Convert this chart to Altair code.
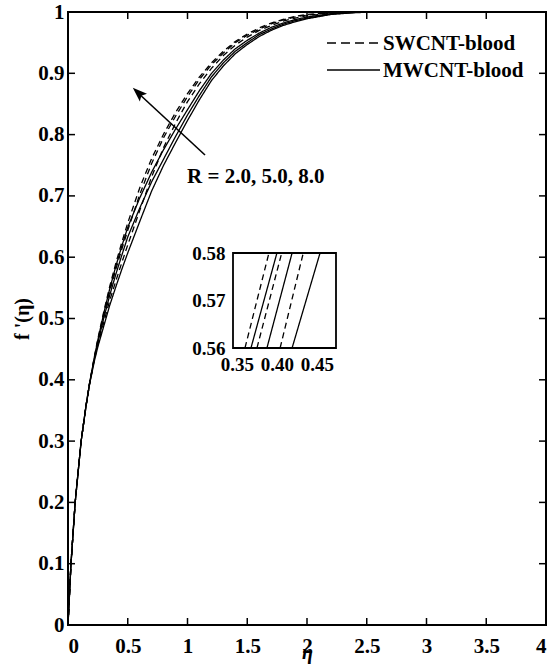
import altair as alt
import pandas as pd

# ---------------- data ----------------
eta = [0, 0.025, 0.06, 0.11, 0.15, 0.18, 0.22, 0.25, 0.3, 0.35, 0.4, 0.45, 0.5, 0.6, 0.7, 0.8,
       0.9, 1.0, 1.1, 1.2, 1.3, 1.4, 1.5, 1.6, 1.7, 1.8, 1.9, 2.0, 2.2, 2.4, 2.6, 3.0]

sw_R8 = [0, 0.1, 0.2, 0.3, 0.357, 0.394, 0.437, 0.467, 0.512, 0.553, 0.590, 0.624, 0.656, 0.713,
         0.761, 0.801, 0.836, 0.867, 0.894, 0.917, 0.936, 0.952, 0.964, 0.974, 0.982, 0.988, 0.993,
         0.996, 0.999, 1.0, 1.0, 1.0]
sw_R5 = [0, 0.1, 0.2, 0.3, 0.357, 0.3935, 0.435, 0.464, 0.506, 0.545, 0.580, 0.613, 0.644, 0.702,
         0.753, 0.795, 0.830, 0.862, 0.890, 0.914, 0.933, 0.950, 0.962, 0.972, 0.9806, 0.987, 0.992,
         0.995, 0.9986, 1.0, 1.0, 1.0]
sw_R2 = [0, 0.1, 0.2, 0.3, 0.356, 0.3925, 0.432, 0.457, 0.494, 0.530, 0.561, 0.591, 0.620, 0.676,
         0.731, 0.779, 0.8185, 0.8538, 0.883, 0.908, 0.929, 0.946, 0.959, 0.970, 0.978, 0.985, 0.990,
         0.994, 0.998, 0.9997, 1.0, 1.0]
mw_R8 = [0, 0.1, 0.2, 0.3, 0.357, 0.394, 0.436, 0.465, 0.509, 0.549, 0.585, 0.618, 0.6487, 0.6965,
         0.7387, 0.7755, 0.809, 0.8406, 0.8718, 0.8996, 0.9216, 0.940, 0.9538, 0.9656, 0.9748, 0.982,
         0.9876, 0.9918, 0.9972, 0.9994, 1.0, 1.0]
mw_R5 = [0, 0.1, 0.2, 0.3, 0.356, 0.393, 0.434, 0.461, 0.501, 0.5385, 0.572, 0.603, 0.633, 0.680,
         0.723, 0.760, 0.797, 0.832, 0.864, 0.894, 0.917, 0.936, 0.950, 0.963, 0.972, 0.980, 0.9858,
         0.990, 0.9966, 0.9992, 1.0, 1.0]
mw_R2 = [0, 0.1, 0.2, 0.3, 0.356, 0.392, 0.43, 0.454, 0.488, 0.522, 0.5515, 0.580, 0.607, 0.658,
         0.708, 0.75, 0.787, 0.823, 0.857, 0.888, 0.912, 0.932, 0.947, 0.96, 0.97, 0.978, 0.984,
         0.989, 0.996, 0.999, 1.0, 1.0]

fluids = ["SWCNT-blood", "MWCNT-blood"]

# inset: eta where each curve crosses f' = 0.56 and f' = 0.58
inset_f = [0.56, 0.58]
inset_sw_R2 = [0.404, 0.433]
inset_sw_R5 = [0.375, 0.406]
inset_sw_R8 = [0.360, 0.390]
inset_mw_R2 = [0.419, 0.454]
inset_mw_R5 = [0.3875, 0.419]
inset_mw_R8 = [0.3675, 0.400]

x_ticks = [0, 0.5, 1, 1.5, 2, 2.5, 3, 3.5, 4]
y_ticks = [0, 0.1, 0.2, 0.3, 0.4, 0.5, 0.6, 0.7, 0.8, 0.9, 1]
inset_x_ticks = [0.35, 0.40, 0.45]
inset_y_ticks = [0.56, 0.57, 0.58]
legend_labels = ["SWCNT-blood", "MWCNT-blood"]
annotation = ["R = 2.0, 5.0, 8.0"]

# ---------------- tables ----------------
series = [("SWCNT-blood", "2.0", sw_R2), ("SWCNT-blood", "5.0", sw_R5), ("SWCNT-blood", "8.0", sw_R8),
          ("MWCNT-blood", "2.0", mw_R2), ("MWCNT-blood", "5.0", mw_R5), ("MWCNT-blood", "8.0", mw_R8)]
rows = []
for fl, r, vals in series:
    for e, v in zip(eta, vals):
        rows.append({"eta": e, "fp": v, "fluid": fl, "curve": fl + r})
df = pd.DataFrame(rows)

inset_series = [("SWCNT-blood", "2.0", inset_sw_R2), ("SWCNT-blood", "5.0", inset_sw_R5),
                ("SWCNT-blood", "8.0", inset_sw_R8), ("MWCNT-blood", "2.0", inset_mw_R2),
                ("MWCNT-blood", "5.0", inset_mw_R5), ("MWCNT-blood", "8.0", inset_mw_R8)]
irows = []
for fl, r, vals in inset_series:
    for e, v in zip(vals, inset_f):
        irows.append({"ieta": e, "ifp": v, "fluid": fl, "curve": fl + r})
idf = pd.DataFrame(irows)

# ---------------- layout ----------------
W, H = 478, 613
FONT = "Liberation Serif"
FS = 21
TICK = 7
IX0, IX1, IY0, IY1 = 165, 268, 241, 336

xs = alt.Scale(domain=[0, 4], nice=False, zero=False)
ys = alt.Scale(domain=[0, 1], nice=False, zero=False)
xax = alt.Axis(values=x_ticks, format="~g", labelPadding=10, titlePadding=-14,
               titleFontStyle="italic", titleFontSize=20)
yax = alt.Axis(values=y_ticks, format="~g", labelPadding=4, titlePadding=5)
dash = alt.Scale(domain=fluids, range=[[6, 4], [1, 0]])

lines = alt.Chart(df).mark_line(color="black", strokeWidth=1.3).encode(
    x=alt.X("eta:Q", scale=xs, axis=xax, title="η"),
    y=alt.Y("fp:Q", scale=ys, axis=yax, title="f '(η)"),
    strokeDash=alt.StrokeDash("fluid:N", scale=dash, legend=None),
    detail="curve:N",
)

xt = pd.DataFrame({"eta": x_ticks})
yt = pd.DataFrame({"fp": y_ticks})
tick_style = dict(color="black", strokeWidth=1.5)
tb = alt.Chart(xt).mark_rule(**tick_style).encode(
    x=alt.X("eta:Q", scale=xs, axis=xax, title="η"), y=alt.value(H), y2=alt.value(H - TICK))
tt = alt.Chart(xt).mark_rule(**tick_style).encode(
    x=alt.X("eta:Q", scale=xs, axis=xax, title="η"), y=alt.value(0), y2=alt.value(TICK))
tl = alt.Chart(yt).mark_rule(**tick_style).encode(
    y=alt.Y("fp:Q", scale=ys, axis=yax, title="f '(η)"), x=alt.value(0), x2=alt.value(TICK))
tr = alt.Chart(yt).mark_rule(**tick_style).encode(
    y=alt.Y("fp:Q", scale=ys, axis=yax, title="f '(η)"), x=alt.value(W), x2=alt.value(W - TICK))

main = alt.layer(lines, tb, tt, tl, tr)

# inset
one = pd.DataFrame({"k": [0]})
box = alt.Chart(one).mark_rect(fill="white", stroke="black", strokeWidth=1.8).encode(
    x=alt.value(IX0), x2=alt.value(IX1), y=alt.value(IY0), y2=alt.value(IY1))

ixs = alt.Scale(domain=[0.345, 0.474], range=[IX0, IX1], nice=False, zero=False)
iys = alt.Scale(domain=[0.56, 0.58], range=[IY1, IY0], nice=False, zero=False)
inset_lines = alt.Chart(idf).mark_line(color="black", strokeWidth=1.3).encode(
    x=alt.X("ieta:Q", scale=ixs, title=None,
            axis=alt.Axis(values=inset_x_ticks, format=".2f", orient="bottom",
                          offset=-(H - IY1), labelPadding=7, labelFontSize=19)),
    y=alt.Y("ifp:Q", scale=iys, title=None,
            axis=alt.Axis(values=inset_y_ticks, format=".2f", orient="left",
                          offset=-IX0, labelPadding=8, labelFontSize=19)),
    strokeDash=alt.StrokeDash("fluid:N", scale=alt.Scale(domain=fluids, range=[[3, 4], [1, 0]]),
                              legend=None),
    detail="curve:N",
)

# arrow + annotation
arrow_line = alt.Chart(one).mark_rule(color="black", strokeWidth=1.6).encode(
    x=alt.value(137), y=alt.value(143), x2=alt.value(69), y2=alt.value(80))
arrow_head = alt.Chart(one).mark_point(
    shape="M0,-1 L0.65,0.8 L0,0.45 L-0.65,0.8 Z", filled=True, color="black",
    size=260, angle=313, opacity=1).encode(x=alt.value(70.7), y=alt.value(81.3))
annot = alt.Chart(pd.DataFrame({"t": annotation})).mark_text(
    align="left", baseline="middle", font=FONT, fontSize=FS, fontWeight="bold", color="black"
).encode(text="t:N", x=alt.value(119), y=alt.value(165))

# legend (manual)
leg1_line = alt.Chart(one).mark_rule(color="black", strokeWidth=1.6, strokeDash=[9, 5]).encode(
    x=alt.value(259), x2=alt.value(312), y=alt.value(31))
leg2_line = alt.Chart(one).mark_rule(color="black", strokeWidth=1.3).encode(
    x=alt.value(259), x2=alt.value(312), y=alt.value(58))
leg1_text = alt.Chart(pd.DataFrame({"t": legend_labels[:1]})).mark_text(
    align="left", baseline="middle", font=FONT, fontSize=FS, fontWeight="bold", color="black"
).encode(text="t:N", x=alt.value(315), y=alt.value(32))
leg2_text = alt.Chart(pd.DataFrame({"t": legend_labels[1:]})).mark_text(
    align="left", baseline="middle", font=FONT, fontSize=FS, fontWeight="bold", color="black"
).encode(text="t:N", x=alt.value(315), y=alt.value(59))

chart = alt.layer(
    main, box, inset_lines, arrow_line, arrow_head, annot,
    leg1_line, leg2_line, leg1_text, leg2_text,
).resolve_scale(x="independent", y="independent").properties(
    width=W, height=H,
    padding={"left": 68, "top": 12, "right": 8, "bottom": 41},
    autosize=alt.AutoSizeParams(type="none"),
).configure_view(stroke="black", strokeWidth=2).configure_axis(
    labelFont=FONT, labelFontWeight="bold", labelFontSize=FS, labelColor="black",
    titleFont=FONT, titleFontWeight="bold", titleFontSize=20, titleColor="black",
    ticks=False, domain=False, grid=False,
)

chart.save("out.html", embed_options={"renderer": "svg", "actions": False})
